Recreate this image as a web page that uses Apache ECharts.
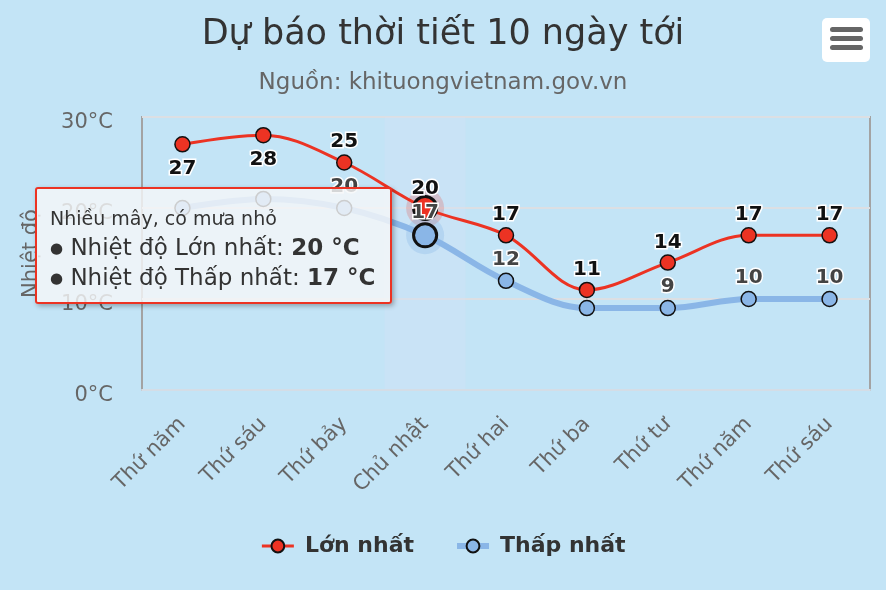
<!DOCTYPE html>
<html>
<head>
<meta charset="utf-8">
<script src="https://cdn.jsdelivr.net/npm/echarts@6/dist/echarts.min.js"></script>
<style>
html,body{margin:0;padding:0;background:#c3e4f6;}
#chart{width:886px;height:590px;}
</style>
</head>
<body>
<div id="chart"></div>
<script>
const titleText = 'Dự báo thời tiết 10 ngày tới';
const subtitleText = 'Nguồn: khituongvietnam.gov.vn';
const categories = ['Thứ năm','Thứ sáu','Thứ bảy','Chủ nhật','Thứ hai','Thứ ba','Thứ tư','Thứ năm','Thứ sáu'];
const maxTemps = [27, 28, 25, 20, 17, 11, 14, 17, 17];
const minTemps = [20, 21, 20, 17, 12, 9, 9, 10, 10];
const maxLabelBelow = [true, true, false, false, false, false, false, false, false];
const minLabelShown = [false, false, true, true, true, false, true, true, true];
const yTicks = [0, 10, 20, 30];
const yAxisTitle = 'Nhiệt độ';
const seriesNames = ['Lớn nhất', 'Thấp nhất'];
const tooltipNote = 'Nhiều mây, có mưa nhỏ';
const hoverIndex = 3;

const FONT = 'DejaVu Sans';
const RED = '#ec3323';
const BLUE = '#8ab6e7';

const chart = echarts.init(document.getElementById('chart'), null, {renderer: 'canvas'});

function hoverStyle(i) {
  return i === hoverIndex ? { symbolSize: 21, itemStyle: { borderWidth: 3 } } : {};
}

const maxData = maxTemps.map((v, i) => Object.assign({
  value: v,
  label: maxLabelBelow[i] ? { position: 'bottom', distance: 6 } : { position: 'top', distance: i === hoverIndex ? -4 : 2 }
}, hoverStyle(i)));

const minData = minTemps.map((v, i) => Object.assign({
  value: v,
  label: { show: minLabelShown[i], distance: i === hoverIndex ? -1 : 3 }
}, hoverStyle(i)));

const haloMax = maxTemps.map((v, i) => i === hoverIndex ? v : '-');
const haloMin = minTemps.map((v, i) => i === hoverIndex ? v : '-');

const labelBase = {
  show: true,
  fontFamily: FONT,
  fontSize: 20,
  fontWeight: 'bold',
  textBorderColor: '#fff',
  textBorderWidth: 3
};

const option = {
  backgroundColor: '#c3e4f6',
  animation: false,
  title: [
    { text: titleText, left: 'center', top: 12,
      textStyle: { fontFamily: FONT, fontSize: 35, fontWeight: 'normal', color: '#333' } },
    { text: subtitleText, left: 'center', top: 67,
      textStyle: { fontFamily: FONT, fontSize: 23, fontWeight: 'normal', color: '#666' } }
  ],
  grid: { left: 142, right: 16, top: 117, bottom: 200, show: true, borderColor: '#a3a3a3', borderWidth: 2, backgroundColor: 'transparent' },
  tooltip: {
    trigger: 'axis',
    alwaysShowContent: true,
    transitionDuration: 0,
    position: [35, 187],
    backgroundColor: 'rgba(245,247,248,0.82)',
    borderColor: RED,
    borderWidth: 2,
    padding: [15, 15, 9, 13],
    extraCssText: 'box-shadow: 2px 2px 5px rgba(0,0,0,0.3); border-radius:3px;',
    axisPointer: { type: 'shadow', z: 0, shadowStyle: { color: 'rgba(212,226,246,0.35)' } },
    formatter: function (params) {
      let s = '<div style="font-family:\'DejaVu Sans\';color:#333;line-height:29px;">';
      s += '<div style="font-size:19px;">' + tooltipNote + '</div>';
      params.filter(p => p.seriesType === 'line').forEach(p => {
        s += '<div style="font-size:23px;white-space:nowrap;"><span style="font-size:15px;vertical-align:2px;">●</span> Nhiệt độ ' + p.seriesName + ': <b>' + p.value + ' °C</b></div>';
      });
      return s + '</div>';
    }
  },
  legend: {
    bottom: 28,
    left: 'center',
    itemWidth: 32,
    itemHeight: 16,
    itemGap: 40,
    textStyle: { fontFamily: FONT, fontSize: 22, fontWeight: 'bold', color: '#333', padding: [0, 0, 0, 6] },
    data: [
      { name: seriesNames[0], lineStyle: { width: 3 } },
      { name: seriesNames[1], lineStyle: { width: 6 } }
    ]
  },
  xAxis: {
    type: 'category',
    data: categories,
    boundaryGap: true,
    axisLine: { show: true, lineStyle: { color: '#d4dde6', width: 2 } },
    axisTick: { show: false },
    axisPointer: { type: 'shadow', z: 0 },
    axisLabel: { rotate: 45, fontFamily: FONT, fontSize: 21, color: '#666', margin: 31, interval: 0 }
  },
  yAxis: {
    type: 'value',
    min: yTicks[0],
    max: yTicks[yTicks.length - 1],
    interval: 10,
    name: yAxisTitle,
    nameLocation: 'middle',
    nameGap: 100,
    nameTextStyle: { fontFamily: FONT, fontSize: 21, color: '#666' },
    axisLine: { show: false },
    axisTick: { show: false },
    splitLine: { lineStyle: { color: '#dcdfe3', width: 2 } },
    axisLabel: { fontFamily: FONT, fontSize: 21, color: '#666', margin: 29, verticalAlign: 'top', lineHeight: 12, formatter: '{value}°C' }
  },
  series: [
    {
      type: 'scatter', data: haloMax, symbolSize: 38, silent: true, z: 1,
      itemStyle: { color: 'rgba(236,51,35,0.25)' }, emphasis: { disabled: true }, tooltip: { show: false }
    },
    {
      type: 'scatter', data: haloMin, symbolSize: 38, silent: true, z: 1,
      itemStyle: { color: 'rgba(138,182,231,0.4)' }, emphasis: { disabled: true }, tooltip: { show: false }
    },
    {
      name: seriesNames[0],
      type: 'line',
      smooth: 0.35,
      data: maxData,
      symbol: 'circle',
      symbolSize: 15,
      z: 3,
      lineStyle: { color: RED, width: 3 },
      itemStyle: { color: RED, borderColor: '#111', borderWidth: 1.5 },
      label: Object.assign({}, labelBase, { color: '#111' }),
      emphasis: { disabled: true }
    },
    {
      name: seriesNames[1],
      type: 'line',
      smooth: 0.35,
      data: minData,
      symbol: 'circle',
      symbolSize: 15,
      z: 4,
      lineStyle: { color: BLUE, width: 6 },
      itemStyle: { color: BLUE, borderColor: '#111', borderWidth: 1.5 },
      label: Object.assign({}, labelBase, { color: '#444', position: 'top' }),
      emphasis: { disabled: true }
    }
  ],
  graphic: [
    { type: 'rect', left: 822, top: 18, shape: { width: 48, height: 44, r: 5 }, style: { fill: '#fff' } },
    { type: 'rect', left: 830, top: 27, shape: { width: 33, height: 5, r: 2.5 }, style: { fill: '#666' } },
    { type: 'rect', left: 830, top: 36, shape: { width: 33, height: 5, r: 2.5 }, style: { fill: '#666' } },
    { type: 'rect', left: 830, top: 45, shape: { width: 33, height: 5, r: 2.5 }, style: { fill: '#666' } }
  ]
};

chart.setOption(option);
chart.dispatchAction({ type: 'showTip', seriesIndex: 2, dataIndex: hoverIndex });
</script>
</body>
</html>
